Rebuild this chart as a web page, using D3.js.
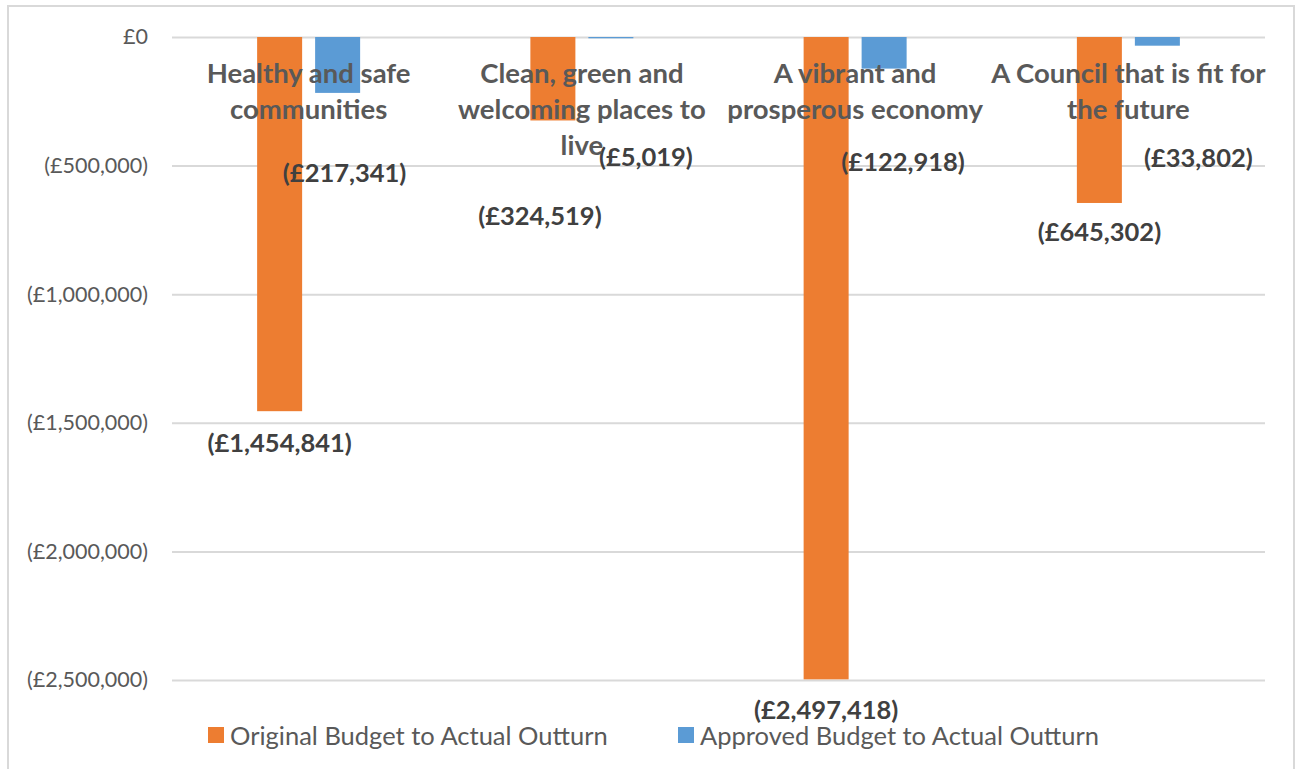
<!DOCTYPE html>
<html>
<head>
<meta charset="utf-8">
<script src="https://cdn.jsdelivr.net/npm/d3@7"></script>
<style>
    body { margin: 0; background: #ffffff; }
    svg { display: block; font-family: Lato, "Open Sans", sans-serif; }
</style>
</head>
<body>
<svg id="chart" width="1297" height="769"></svg>
<script>
// categories, each label split on the lines Excel wrapped it to
const categories = [
    ["Healthy and safe", "communities"],
    ["Clean, green and", "welcoming places to", "live"],
    ["A vibrant and", "prosperous economy"],
    ["A Council that is fit for", "the future"]
];
const series = ["Original Budget to Actual Outturn", "Approved Budget to Actual Outturn"];
const originalValues = [-1454841, -324519, -2497418, -645302];
const approvedValues = [-217341, -5019, -122918, -33802];
const yTicks = [0, -500000, -1000000, -1500000, -2000000, -2500000];

const colors = ["#ed7d31", "#5b9bd5"];

// labels were dragged around by hand in the original, so nudge them (px)
const labelNudge = [
    [[0, 0], [7, 48]],
    [[-13, 64], [35, 87]],
    [[0, -1], [19, 61]],
    [[0, -3], [41, 80]]
];

const svg = d3.select("#chart");
const plot = {left: 172, right: 1265, top: 37, bottom: 680};

// outer chart border
svg.append("rect")
    .attr("x", 8).attr("y", 6)
    .attr("width", 1286).attr("height", 800)
    .attr("fill", "none")
    .attr("stroke", "#d9d9d9")
    .attr("stroke-width", 2);

const x0 = d3.scaleBand()
    .domain(d3.range(categories.length))
    .range([plot.left, plot.right]);

const x1 = d3.scaleBand()
    .domain(d3.range(series.length))
    .range([0, 103])
    .paddingInner(0.224);

const groupOffset = (x0.bandwidth() - 103) / 2;

const y = d3.scaleLinear()
    .domain([-2500000, 0])
    .range([plot.bottom, plot.top]);

const money = v => {
    let s = "£" + d3.format(",")(Math.abs(v));
    return v < 0 ? "(" + s + ")" : s;
};

// gridlines + tick labels
const yAxis = d3.axisLeft(y)
    .tickValues(yTicks)
    .tickFormat(money)
    .tickSize(-(plot.right - plot.left))
    .tickPadding(24);

const axisG = svg.append("g")
    .attr("transform", "translate(" + plot.left + ",0)")
    .call(yAxis);
axisG.select(".domain").remove();
axisG.selectAll("line").attr("stroke", "#d9d9d9").attr("stroke-width", 2);
axisG.selectAll("text")
    .attr("fill", "#595959")
    .style("font-size", "21.5px")
    .style("font-family", "Lato, sans-serif");

// bars
const rows = categories.map((c, i) => [originalValues[i], approvedValues[i]]);

const groups = svg.append("g").selectAll("g.cat")
    .data(rows)
    .enter().append("g")
    .classed("cat", true)
    .attr("transform", (d, i) => "translate(" + (x0(i) + groupOffset) + ",0)");

groups.selectAll("rect")
    .data(d => d)
    .enter().append("rect")
    .attr("x", (d, j) => x1(j))
    .attr("width", x1.bandwidth())
    .attr("y", y(0))
    .attr("height", d => y(d) - y(0))
    .attr("fill", (d, j) => colors[j]);

// category names sit on top of the bars
const catText = svg.append("g").selectAll("text")
    .data(categories)
    .enter().append("text")
    .attr("x", (d, i) => x0(i) + x0.bandwidth() / 2)
    .attr("y", 83)
    .attr("text-anchor", "middle")
    .attr("fill", "#595959")
    .style("font-size", "27.5px")
    .style("font-weight", "bold");

catText.selectAll("tspan")
    .data(d => d)
    .enter().append("tspan")
    .attr("x", function() { return d3.select(this.parentNode).attr("x"); })
    .attr("dy", (d, k) => k === 0 ? 0 : 36)
    .text(d => d);

// data labels, below the end of each bar
groups.each(function(d, i) {
    d3.select(this).selectAll("text.val")
        .data(d)
        .enter().append("text")
        .classed("val", true)
        .attr("x", (v, j) => x1(j) + x1.bandwidth() / 2 + labelNudge[i][j][0])
        .attr("y", (v, j) => y(v) + 32 + labelNudge[i][j][1])
        .attr("dy", "0.35em")
        .attr("text-anchor", "middle")
        .attr("fill", "#404040")
        .style("font-size", "25.5px")
        .style("font-weight", "bold")
        .text(money);
});

// legend
const legendX = [208, 678];
const legend = svg.append("g").selectAll("g")
    .data(series)
    .enter().append("g")
    .attr("transform", (d, j) => "translate(" + legendX[j] + ",727)");

legend.append("rect")
    .attr("width", 16).attr("height", 16)
    .attr("fill", (d, j) => colors[j]);

legend.append("text")
    .attr("x", 22)
    .attr("y", 9)
    .attr("dy", "0.35em")
    .attr("fill", "#595959")
    .style("font-size", "25.5px")
    .text(d => d);
</script>
</body>
</html>
